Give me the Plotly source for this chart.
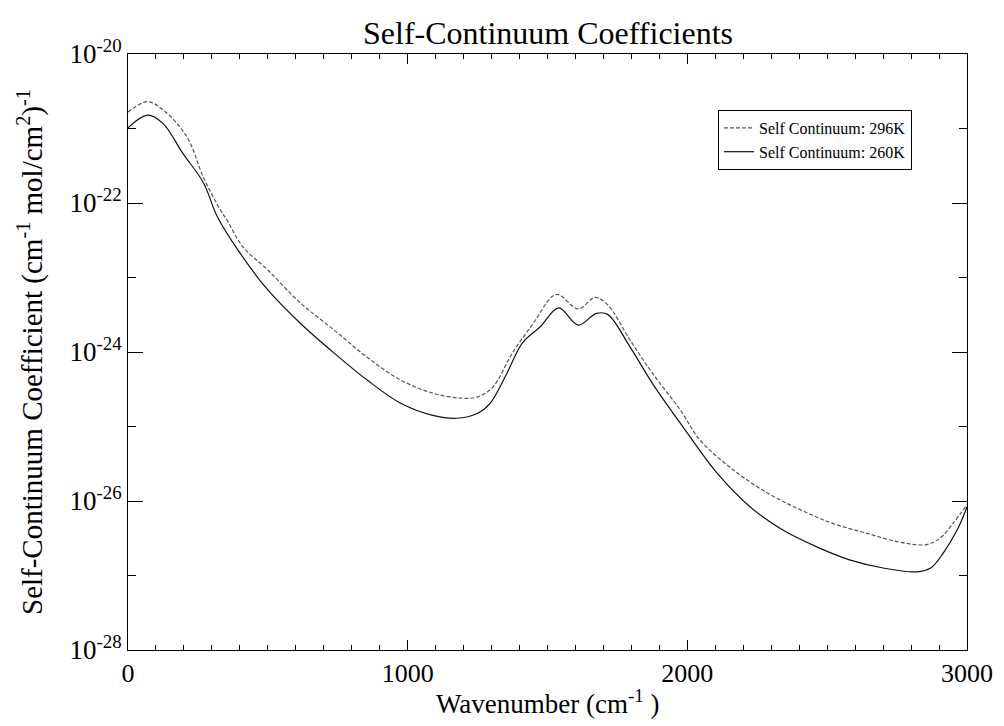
import plotly.graph_objects as go

# Data
wn_296 = [0, 70, 125, 210, 270, 330, 354, 410, 500, 615, 735, 855, 975, 1090, 1190, 1250,
          1305, 1375, 1450, 1515, 1540, 1610, 1670, 1715, 1795, 1875, 1975, 2045, 2165,
          2285, 2405, 2520, 2640, 2760, 2855, 2905, 2950, 3000]
k_296 = [1.66e-21, 2.29e-21, 1.78e-21, 7.8e-22, 2.2e-22, 8.1e-23, 5.9e-23, 2.6e-23, 1.26e-23,
         4.6e-24, 2.0e-24, 8.5e-25, 4.2e-25, 2.8e-25, 2.4e-25, 2.5e-25, 3.4e-25, 9.8e-25,
         2.45e-24, 5.5e-24, 5.9e-24, 3.8e-24, 5.4e-24, 4.3e-24, 1.45e-24, 5.2e-25, 1.66e-25,
         6.6e-26, 2.6e-26, 1.29e-26, 7.6e-27, 5.0e-27, 3.7e-27, 2.8e-27, 2.6e-27, 3.2e-27,
         5.0e-27, 8.9e-27]

wn_260 = [0, 70, 125, 195, 270, 320, 400, 500, 615, 735, 855, 975, 1090, 1175, 1250, 1295,
          1355, 1410, 1475, 1540, 1610, 1675, 1715, 1795, 1875, 1985, 2105, 2225, 2340, 2465,
          2580, 2700, 2820, 2870, 2915, 2965, 3000]
k_260 = [1.02e-21, 1.51e-21, 1.17e-21, 4.7e-22, 1.86e-22, 6.5e-23, 2.14e-23, 6.8e-24, 2.45e-24,
         9.8e-25, 4.2e-25, 2.05e-25, 1.41e-25, 1.29e-25, 1.51e-25, 2.05e-25, 5.2e-25, 1.32e-24,
         2.2e-24, 3.9e-24, 2.3e-24, 3.3e-24, 3.2e-24, 1.17e-24, 3.8e-25, 9.8e-26, 2.4e-26,
         8.3e-27, 4.1e-27, 2.4e-27, 1.62e-27, 1.26e-27, 1.12e-27, 1.26e-27, 2.0e-27, 4.1e-27,
         8.3e-27]

series_names = ["Self Continuum: 296K", "Self Continuum: 260K"]
y_major = [1e-20, 1e-22, 1e-24, 1e-26, 1e-28]
y_major_text = ["10<sup>-20</sup>", "10<sup>-22</sup>", "10<sup>-24</sup>", "10<sup>-26</sup>", "10<sup>-28</sup>"]
y_minor = [1e-21, 1e-23, 1e-25, 1e-27]
x_major = [0, 1000, 2000, 3000]

FONT = "Liberation Serif"
W, H = 996, 718          # page body has an 8px margin
L, T, PW, PH = 120, 46, 839, 596
R, B = W - L - PW, H - T - PH

fig = go.Figure()
fig.add_trace(go.Scatter(x=wn_296, y=k_296, mode="lines", name=series_names[0],
                         line=dict(color="#555555", width=1.2, dash="4px,2px"),
                         line_shape="spline"))
fig.add_trace(go.Scatter(x=wn_260, y=k_260, mode="lines", name=series_names[1],
                         line=dict(color="#111111", width=1.2),
                         line_shape="spline"))

fig.update_layout(
    width=W, height=H,
    margin=dict(l=L, r=R, t=T, b=B),
    paper_bgcolor="white", plot_bgcolor="white",
    font=dict(family=FONT, color="black"),
    showlegend=True,
    legend=dict(x=(718 - 128) / PW, y=1 - (110 - 54) / PH, xanchor="left", yanchor="top",
                bgcolor="white", bordercolor="black", borderwidth=1,
                font=dict(family=FONT, size=16), tracegroupgap=0),
    title=dict(text="Self-Continuum Coefficients", x=(548 - 8) / W, xanchor="center",
               y=1 - (33 - 8) / H, yanchor="middle",
               font=dict(family=FONT, size=32)),
)

fig.update_xaxes(
    range=[0, 3000], tickvals=x_major, ticks="inside", ticklen=10, tickwidth=1,
    tickcolor="black", showline=True, linecolor="black", linewidth=1,
    mirror="allticks", showgrid=False, zeroline=False,
    tickfont=dict(family=FONT, size=26),
    minor=dict(dtick=100, ticks="inside", ticklen=5, tickcolor="black", showgrid=False),
)
fig.update_yaxes(
    type="log", range=[-28, -20], tickvals=y_major, ticktext=y_major_text,
    ticks="inside", ticklen=15, tickwidth=1, tickcolor="black",
    showline=True, linecolor="black", linewidth=1, mirror="allticks",
    showgrid=False, zeroline=False, tickfont=dict(family=FONT, size=27),
    minor=dict(tickvals=y_minor, ticks="inside", ticklen=8, tickcolor="black", showgrid=False),
)

fig.add_annotation(text="Wavenumber (cm<sup>-1</sup> )", xref="paper", yref="paper",
                   x=0.5, y=-(702 - 650) / PH, xanchor="center", yanchor="middle",
                   showarrow=False, font=dict(family=FONT, size=27))
fig.add_annotation(text="Self-Continuum Coefficient (cm<sup>-1</sup> mol/cm<sup>2</sup>)<sup>-1</sup>",
                   xref="paper", yref="paper", x=(30 - 128) / PW, y=0.5,
                   xanchor="center", yanchor="middle", textangle=-90,
                   showarrow=False, font=dict(family=FONT, size=29))

fig.write_html("out.html")
